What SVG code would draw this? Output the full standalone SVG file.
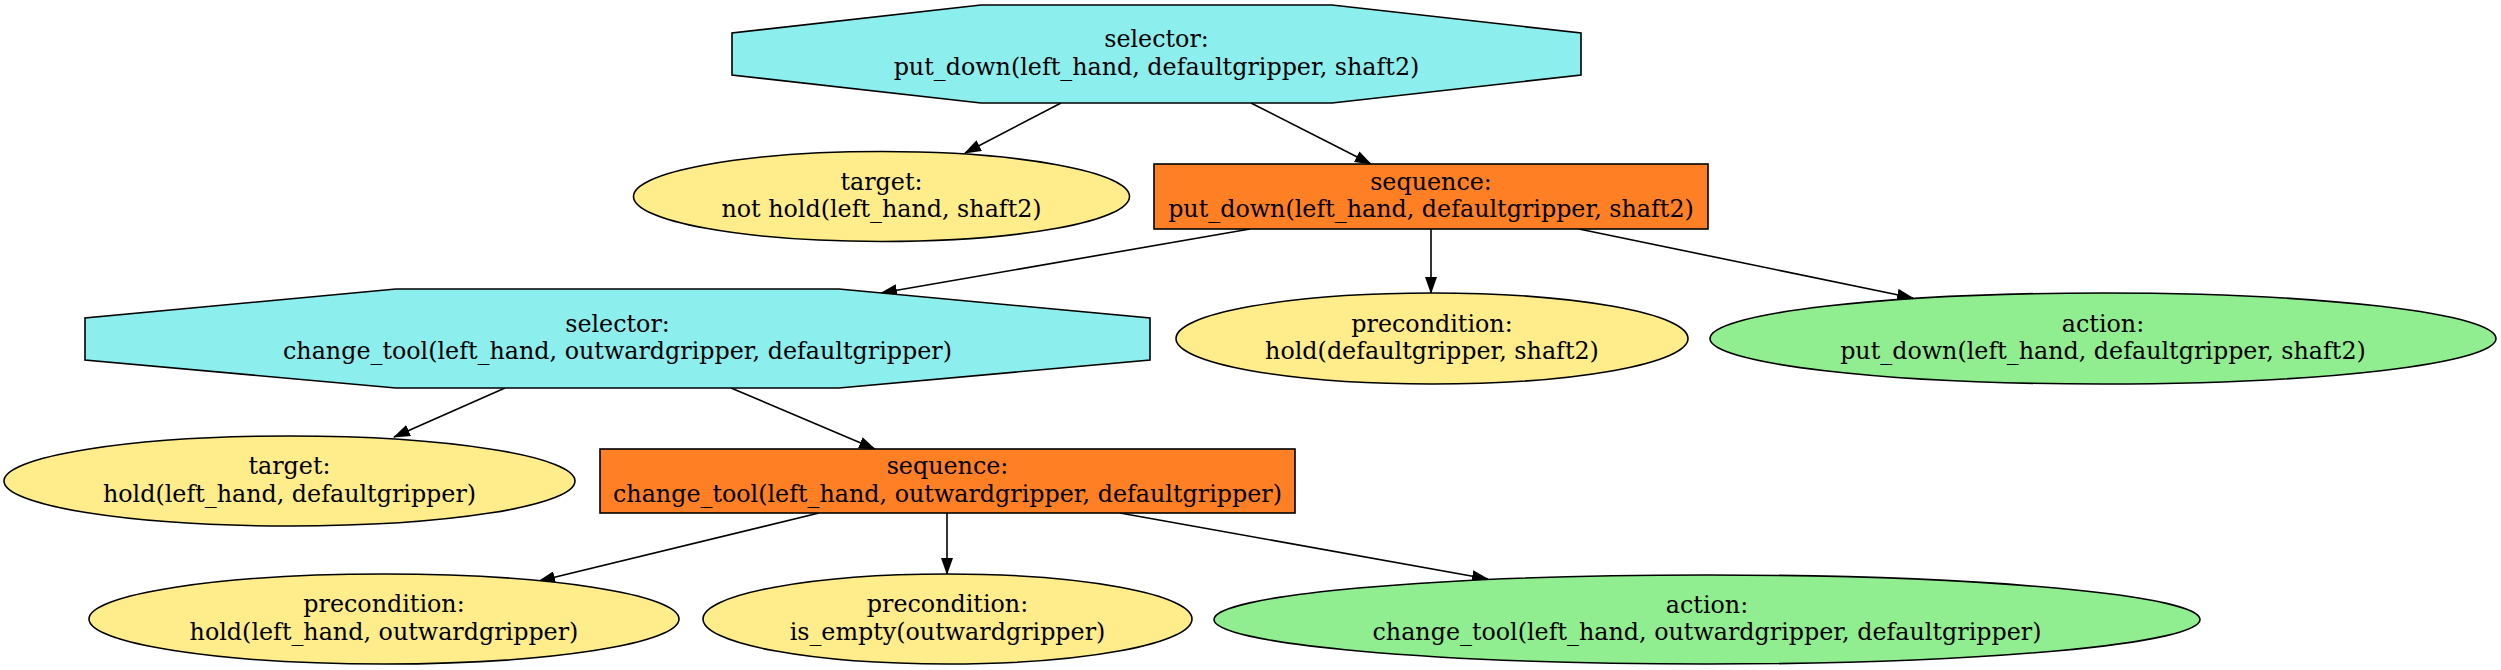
<svg xmlns="http://www.w3.org/2000/svg" width="2501" height="670" viewBox="0 0 2501 670">
<style>
text{font-family:"DejaVu Serif","Liberation Serif",serif;font-size:23.8px;text-anchor:middle;fill:#000}
.sel{fill:#8deeee;stroke:#000;stroke-width:1.6}
.seq{fill:#ff7f24;stroke:#000;stroke-width:1.6}
.cond{fill:#ffec8b;stroke:#000;stroke-width:1.6}
.act{fill:#90ee90;stroke:#000;stroke-width:1.6}
.edge{stroke:#000;stroke-width:1.6;fill:none;marker-end:url(#arr)}
</style>
<defs>
<marker id="arr" markerUnits="userSpaceOnUse" markerWidth="17" markerHeight="12" viewBox="0 0 17 12" refX="16" refY="6" orient="auto">
<path d="M0,0 L17,6 L0,12 z" fill="#000"/>
</marker>
</defs>
<rect width="2501" height="670" fill="#fff"/>
<g id="edges">
<line class="edge" x1="1061" y1="103" x2="965" y2="153"/>
<line class="edge" x1="1251" y1="103" x2="1371" y2="164"/>
<line class="edge" x1="1250" y1="229" x2="881" y2="293"/>
<line class="edge" x1="1431" y1="229" x2="1431" y2="293"/>
<line class="edge" x1="1579" y1="229" x2="1913" y2="298"/>
<line class="edge" x1="505" y1="388" x2="394" y2="437"/>
<line class="edge" x1="731" y1="388" x2="875" y2="449"/>
<line class="edge" x1="819" y1="513" x2="539" y2="581"/>
<line class="edge" x1="947" y1="513" x2="947" y2="574"/>
<line class="edge" x1="1120" y1="513" x2="1488" y2="579"/>
</g>
<g id="n1">
<polygon class="sel" points="981,5 1332,5 1581,33 1581,75 1332,103 981,103 732,75 732,33"/>
<text x="1156.5" y="47">selector:</text>
<text x="1156.5" y="74.5">put_down(left_hand, defaultgripper, shaft2)</text>
</g>
<g id="n2">
<ellipse class="cond" cx="881.5" cy="196.5" rx="248" ry="45"/>
<text x="881.5" y="189.5">target:</text>
<text x="881.5" y="217">not hold(left_hand, shaft2)</text>
</g>
<g id="n3">
<rect class="seq" x="1154" y="164" width="554" height="65"/>
<text x="1431" y="189.5">sequence:</text>
<text x="1431" y="217">put_down(left_hand, defaultgripper, shaft2)</text>
</g>
<g id="n4">
<polygon class="sel" points="396,289 839,289 1150,318 1150,360 839,388 396,388 85,360 85,318"/>
<text x="617.5" y="331.5">selector:</text>
<text x="617.5" y="359">change_tool(left_hand, outwardgripper, defaultgripper)</text>
</g>
<g id="n5">
<ellipse class="cond" cx="1432" cy="338.5" rx="256" ry="45.5"/>
<text x="1432" y="331.5">precondition:</text>
<text x="1432" y="359">hold(defaultgripper, shaft2)</text>
</g>
<g id="n6">
<ellipse class="act" cx="2103" cy="338.5" rx="393" ry="45.5"/>
<text x="2103" y="331.5">action:</text>
<text x="2103" y="359">put_down(left_hand, defaultgripper, shaft2)</text>
</g>
<g id="n7">
<ellipse class="cond" cx="289.5" cy="481" rx="285.5" ry="45"/>
<text x="289.5" y="474">target:</text>
<text x="289.5" y="501.5">hold(left_hand, defaultgripper)</text>
</g>
<g id="n8">
<rect class="seq" x="600" y="449" width="695" height="64"/>
<text x="947.5" y="474">sequence:</text>
<text x="947.5" y="501.5">change_tool(left_hand, outwardgripper, defaultgripper)</text>
</g>
<g id="n9">
<ellipse class="cond" cx="384" cy="619" rx="295" ry="45"/>
<text x="384" y="612">precondition:</text>
<text x="384" y="639.5">hold(left_hand, outwardgripper)</text>
</g>
<g id="n10">
<ellipse class="cond" cx="947.5" cy="619" rx="244.5" ry="45"/>
<text x="947.5" y="612">precondition:</text>
<text x="947.5" y="639.5">is_empty(outwardgripper)</text>
</g>
<g id="n11">
<ellipse class="act" cx="1707" cy="619.5" rx="493" ry="44.5"/>
<text x="1707" y="612.5">action:</text>
<text x="1707" y="640">change_tool(left_hand, outwardgripper, defaultgripper)</text>
</g>
</svg>
